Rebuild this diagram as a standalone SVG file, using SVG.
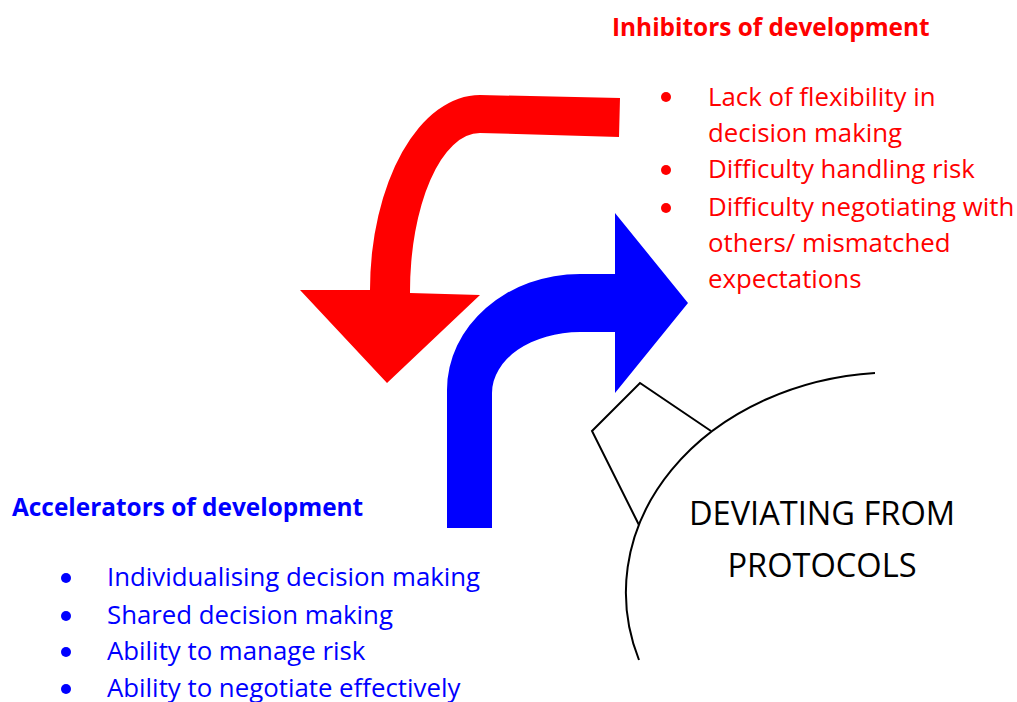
<svg xmlns="http://www.w3.org/2000/svg" width="1017" height="702" viewBox="0 0 1017 702">
<style>
  .title { font-family: "Open Sans", "Liberation Sans", sans-serif; font-weight: bold; font-size: 24.4px; }
  .item { font-family: "Open Sans", "Liberation Sans", sans-serif; font-size: 25.8px; }
  .center { font-family: "Open Sans", "Liberation Sans", sans-serif; font-size: 32.6px; fill: #000; text-anchor: middle; }
  .red { fill: #ff0000; }
  .blue { fill: #0000ff; }
  .outline { fill: none; stroke: #000; stroke-width: 2; }
</style>
<rect width="1017" height="702" fill="#ffffff"/>

<g id="connectors">
  <path id="inhibitor-arrow" class="red" d="M 620 98 L 480 95 A 110 195 0 0 0 370 290 L 300 290 L 387 383 L 480 295 L 410 293 A 70 159 0 0 1 480 133 L 619 137 Z"/>
  <path id="accelerator-arrow" class="blue" d="M 447 528 L 447 390 A 133 116 0 0 1 580 274 L 615 274 L 615 213 L 688 303 L 615 393 L 615 332 L 580 332 A 88 61 0 0 0 492 393 L 492 528 Z"/>
</g>

<g id="node-deviating">
  <path class="outline" d="M 875 373 A 270 220 0 0 0 639 660"/>
  <polyline class="outline" points="711,431 640,383 592,431 639,525"/>
  <text class="center" x="822" y="525">DEVIATING FROM</text>
  <text class="center" x="822" y="577">PROTOCOLS</text>
</g>

<g id="node-inhibitors" class="red">
  <text class="title" x="612" y="36">Inhibitors of development</text>
  <circle cx="666" cy="97" r="5"/>
  <circle cx="666" cy="170" r="5"/>
  <circle cx="666" cy="208" r="5"/>
  <text class="item" x="708" y="106">Lack of flexibility in</text>
  <text class="item" x="708" y="142">decision making</text>
  <text class="item" x="708" y="178">Difficulty handling risk</text>
  <text class="item" x="708" y="216">Difficulty negotiating with</text>
  <text class="item" x="708" y="252">others/ mismatched</text>
  <text class="item" x="708" y="288">expectations</text>
</g>

<g id="node-accelerators" class="blue">
  <text class="title" x="12" y="516">Accelerators of development</text>
  <circle cx="66" cy="578" r="5"/>
  <circle cx="66" cy="616" r="5"/>
  <circle cx="66" cy="652" r="5"/>
  <circle cx="66" cy="689" r="5"/>
  <text class="item" x="107" y="586">Individualising decision making</text>
  <text class="item" x="107" y="624">Shared decision making</text>
  <text class="item" x="107" y="660">Ability to manage risk</text>
  <text class="item" x="107" y="697">Ability to negotiate effectively</text>
</g>
</svg>
